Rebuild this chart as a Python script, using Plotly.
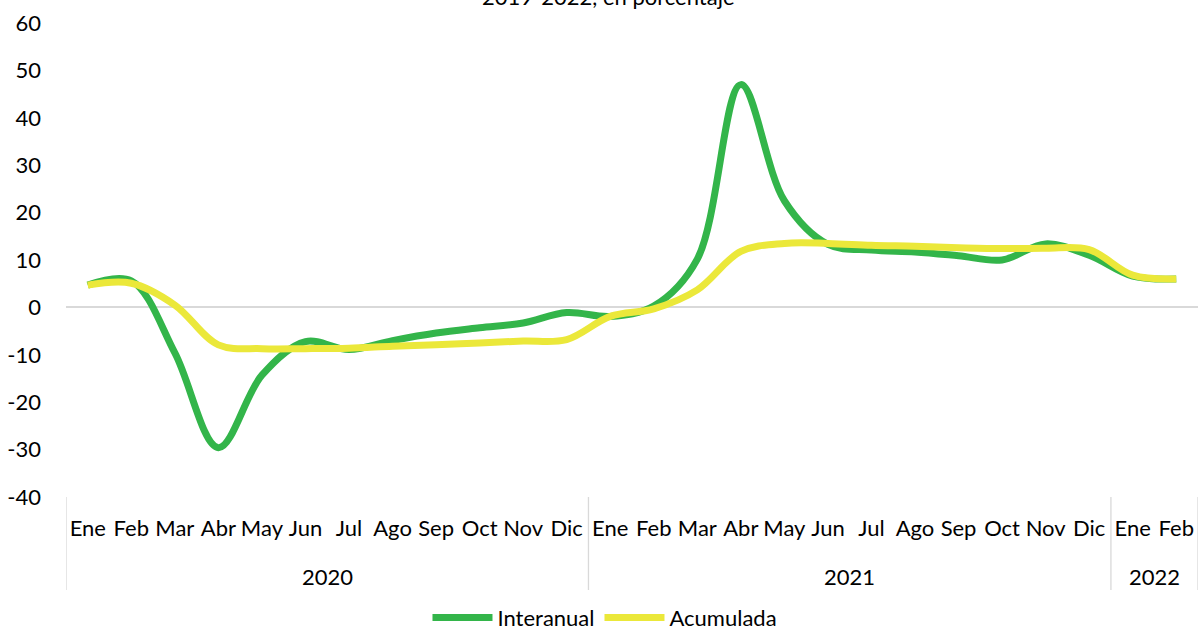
import plotly.graph_objects as go

months = ["Ene", "Feb", "Mar", "Abr", "May", "Jun", "Jul", "Ago", "Sep", "Oct", "Nov", "Dic",
          "Ene", "Feb", "Mar", "Abr", "May", "Jun", "Jul", "Ago", "Sep", "Oct", "Nov", "Dic",
          "Ene", "Feb"]
years = ["2020", "2021", "2022"]
months_per_year = [12, 12, 2]

interanual = [4.7, 5.6, -9.6, -29.6, -14.3, -7.2, -8.9, -7.0, -5.4, -4.3, -3.3, -1.1,
              -1.9, 0.3, 10.2, 47.0, 22.5, 13.3, 12.1, 11.7, 10.9, 10.0, 13.4, 11.0,
              6.6, 6.0]
acumulada = [4.7, 5.1, 0.5, -7.9, -8.7, -8.7, -8.6, -8.2, -7.9, -7.5, -7.1, -6.8,
             -1.9, -0.3, 3.7, 11.8, 13.5, 13.5, 13.1, 12.9, 12.6, 12.4, 12.5, 12.2,
             6.8, 6.0]

y_ticks = [-40, -30, -20, -10, 0, 10, 20, 30, 40, 50, 60]
y_ticktext = ["-40", "-30", "-20", "-10", "0", "10", "20", "30", "40", "50", "60"]

title_text = "2019-2022, en porcentaje"
font_family = "Lato, Carlito, Calibri, sans-serif"
FS = 22

x_index = list(range(len(months)))

fig = go.Figure()
fig.add_trace(go.Scatter(
    x=x_index, y=interanual, name="Interanual", mode="lines",
    line=dict(color="rgb(51,181,74)", width=7, shape="spline", smoothing=1.0),
))
fig.add_trace(go.Scatter(
    x=x_index, y=acumulada, name="Acumulada", mode="lines",
    line=dict(color="rgb(235,232,58)", width=7, shape="spline", smoothing=1.0),
))

# year group labels and dividers
annotations = [dict(text=title_text, xref="paper", yref="paper", x=0.479, y=1,
                    xanchor="center", yanchor="middle", yshift=27,
                    showarrow=False, font=dict(size=FS))]
shapes = []
start = 0
bounds = [-0.5]
for yr, n in zip(years, months_per_year):
    center = start + (n - 1) / 2
    annotations.append(dict(text=yr, xref="x", yref="paper", x=center, y=0,
                            xanchor="center", yanchor="middle", yshift=-79,
                            showarrow=False, font=dict(size=FS)))
    start += n
    bounds.append(start - 0.5)
for b in bounds:
    shapes.append(dict(type="line", xref="x", yref="paper", ysizemode="pixel", yanchor=0,
                       x0=b, x1=b, y0=0, y1=-93,
                       line=dict(color="#D9D9D9", width=1.3)))

fig.update_layout(
    width=1198, height=631,
    margin=dict(l=66, r=0, t=23, b=134),
    paper_bgcolor="white", plot_bgcolor="white",
    font=dict(family=font_family, size=FS, color="#000000"),
    showlegend=True,
    legend=dict(orientation="h", xref="container", x=0.505, xanchor="center",
                yref="container", y=0.021, yanchor="middle",
                font=dict(size=FS), itemwidth=60, tracegroupgap=0),
    annotations=annotations,
    shapes=shapes,
)
fig.update_xaxes(
    range=[-0.5, len(months) - 0.5], tickvals=x_index, ticktext=months,
    showgrid=False, zeroline=False, showline=False,
    ticks="", tickfont=dict(size=FS), ticklabelstandoff=16, tickangle=0,
)
fig.update_yaxes(
    range=[-40, 60], tickvals=y_ticks, ticktext=y_ticktext, showgrid=False,
    zeroline=True, zerolinecolor="#D9D9D9", zerolinewidth=2, showline=False,
    ticks="", tickfont=dict(size=FS), ticklabelstandoff=24,
)

fig.write_html("out.html", config={"displayModeBar": False},
               post_script="document.body.style.margin='0';")
